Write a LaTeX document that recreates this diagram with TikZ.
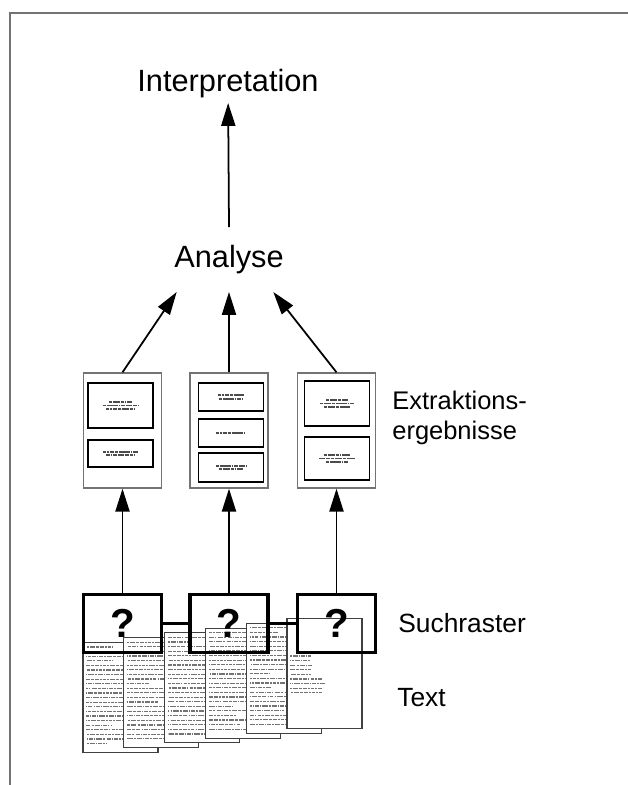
\documentclass[tikz,border=0pt]{standalone}
\usepackage{fontspec}
\setmainfont{Liberation Sans}
\usetikzlibrary{arrows.meta,calc}

\begin{document}
\begin{tikzpicture}[x=0.02cm,y=-0.02cm,
  arr/.style={line width=1pt,-{Triangle[length=13pt,width=8pt]}},
  stage/.style={inner sep=3pt,font=\fontsize{17.5}{20}\selectfont},
  caption/.style={inner sep=0pt,font=\fontsize{15}{17}\selectfont},
  result/.style={draw=black!55,line width=0.8pt,minimum width=1.56cm,minimum height=2.3cm,inner sep=0pt},
  field/.style={draw,line width=0.9pt,minimum width=1.3cm,inner sep=0pt},
  raster/.style={draw,line width=1.8pt,minimum width=1.56cm,minimum height=1.16cm,inner sep=0pt,font=\fontsize{23}{23}\selectfont\bfseries},
  page/.style={draw=black!75,fill=white,line width=0.6pt,minimum width=1.5cm,minimum height=2.2cm,inner sep=0pt},
  textline/.style={black!55,line width=0.7pt,dash pattern=on 2pt off .6pt on 1pt off .6pt on 3pt off .6pt on 1.5pt off .6pt on 2.5pt off .6pt on .8pt off .6pt},
  scribble/.style={black!70,line width=1pt,dash pattern=on 2pt off .4pt on 1pt off .4pt on 2.5pt off .4pt}]

\useasboundingbox (0,0) rectangle (628,785);
% frame
\draw[black!55,line width=1pt] (10,785) -- (10,13) -- (628,13);

% stack of text pages
\pgfmathsetseed{7}
\foreach \i in {1,...,6}{
  \node[page] (page\i) at ({120.5+40.8*(\i-1)},{697.5-4.8*(\i-1)}) {};
  \pgfmathtruncatemacro\nrows{\i==6 ? 8 : 21}
  \pgfmathtruncatemacro\first{\i==6 ? 38 : 5}
  \foreach \r in {0,...,\nrows}{
    \pgfmathsetmacro\len{\i==6 ? 16+26*rnd : (rnd<0.2 ? 20+40*rnd : 62+6*rnd)}
    \pgfmathsetmacro\ph{20*rnd}
    \draw[textline,dash phase=\ph pt] ($(page\i.north west)+(4,\first+4.6*\r)$) -- ++(\len,0);
  }
}

% search grids
\node[raster] (grid1) at (122.5,623.5) {?};
\node[raster] (grid2) at (229,623.5) {?};
\node[raster] (grid3) at (336.5,623.5) {?};
\draw[line width=1.3pt] (grid1) -- (grid2) (grid2) -- (grid3);

% extraction results
\node[result] (res1) at (122.5,430.5) {};
\node[result] (res2) at (229,430.5) {};
\node[result] (res3) at (336.5,430.5) {};
\node[field,minimum height=0.9cm] (f11) at (120.5,405.5) {};
\node[field,minimum height=0.54cm] (f12) at (120.5,453.5) {};
\node[field,minimum height=0.56cm] (f21) at (231,397) {};
\node[field,minimum height=0.56cm] (f22) at (231,433) {};
\node[field,minimum height=0.58cm] (f23) at (231,467.5) {};
\node[field,minimum height=0.9cm] (f31) at (337,403.5) {};
\node[field,minimum height=0.86cm] (f32) at (337,458.5) {};
\foreach \f/\n in {f11/3,f12/2,f21/2,f22/1,f23/2,f31/3,f32/3}
  \foreach \k in {1,...,\n}{
    \pgfmathsetmacro\w{22+14*rnd}
    \draw[scribble] ($(\f)+({-\w/2},{3.5*(\k-1)-1.75*(\n-1)})$) -- ++(\w,0);
  }

% levels
\node[stage,anchor=base] (interp) at (228,91) {Interpretation};
\node[stage,anchor=base] (analyse) at (229,267) {Analyse};

\node[caption,font=\fontsize{14.5}{17}\selectfont,align=left,anchor=west] (extrlabel) at (392,418) {Extraktions-\\ergebnisse};
\node[caption,anchor=base west] (rasterlabel) at (398,632) {Suchraster};
\node[caption,anchor=base west] (textlabel) at (397,706) {Text};

% arrows
\draw[arr] (grid1) -- (res1);
\draw[arr] (grid2) -- (res2);
\draw[arr] (grid3) -- (res3);
\draw[arr] (res1.north) -- ($(analyse.south west)+(8,13)$);
\draw[arr] (res2.north) -- ($(analyse.south)+(0,13)$);
\draw[arr] (res3.north) -- ($(analyse.south east)+(-16,13)$);
\draw[arr] ($(analyse.north)+(0,-12)$) -- (interp);
\end{tikzpicture}
\end{document}
